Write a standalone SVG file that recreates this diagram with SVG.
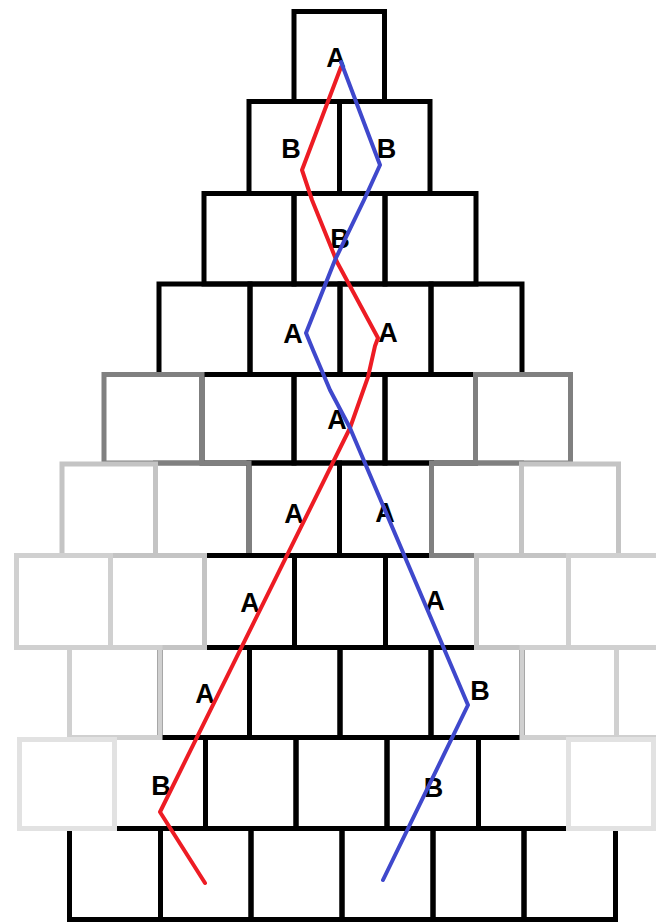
<svg xmlns="http://www.w3.org/2000/svg" width="656" height="922" viewBox="0 0 656 922">
<style>
rect{fill:none;stroke-width:5}
.k{stroke:#000}
.g1{stroke:#808080}
.g2{stroke:#c4c4c4}
.g3{stroke:#d0d0d0}
.g4{stroke:#e2e2e2}
text{font-family:"Liberation Sans Narrow","Liberation Sans",Arial,sans-serif;font-weight:bold;font-size:27px;fill:#000;text-anchor:middle}
.path{fill:none;stroke-width:4;stroke-linejoin:round;stroke-linecap:round}
.red{stroke:#ed1c24}
.blue{stroke:#3f48cc}
</style>
<rect x="0" y="0" width="656" height="922" fill="#fff" stroke="none"/>
<g id="r0c0"><rect class="k" x="294" y="11.5" width="90.5" height="90"/><text x="336" y="67">A</text></g>
<g id="r1c0"><rect class="k" x="249" y="101.5" width="90.5" height="92"/><text x="291" y="158">B</text></g>
<g id="r1c1"><rect class="k" x="339.5" y="101.5" width="90.5" height="92"/><text x="386.5" y="158">B</text></g>
<g id="r2c0"><rect class="k" x="204" y="193.5" width="90" height="90.5"/></g>
<g id="r2c1"><rect class="k" x="294" y="193.5" width="91" height="90.5"/><text x="340" y="248">B</text></g>
<g id="r2c2"><rect class="k" x="385" y="193.5" width="91" height="90.5"/></g>
<g id="r3c0"><rect class="k" x="159" y="284" width="91" height="90.5"/></g>
<g id="r3c1"><rect class="k" x="250" y="284" width="90" height="90.5"/><text x="293" y="343">A</text></g>
<g id="r3c2"><rect class="k" x="340" y="284" width="91" height="90.5"/><text x="388" y="342">A</text></g>
<g id="r3c3"><rect class="k" x="431" y="284" width="91" height="90.5"/></g>
<g id="r4c1"><rect class="k" x="202" y="374.5" width="92" height="88.5"/></g>
<g id="r4c2"><rect class="k" x="294" y="374.5" width="91" height="88.5"/><text x="337" y="429">A</text></g>
<g id="r4c3"><rect class="k" x="385" y="374.5" width="90.5" height="88.5"/></g>
<g id="r5c2"><rect class="k" x="249" y="463" width="90.5" height="92.5"/><text x="294" y="523">A</text></g>
<g id="r5c3"><rect class="k" x="339.5" y="463" width="92" height="92.5"/><text x="385" y="522">A</text></g>
<g id="r6c3"><rect class="k" x="294.5" y="555.5" width="91" height="92"/></g>
<g id="r6c4"><rect class="k" x="385.5" y="555.5" width="91" height="92"/><text x="435" y="610">A</text></g>
<g id="r7c1"><rect class="k" x="160" y="647.5" width="89.5" height="90"/><text x="205" y="703">A</text></g>
<g id="r7c2"><rect class="k" x="249.5" y="647.5" width="90.5" height="90"/></g>
<g id="r7c3"><rect class="k" x="340" y="647.5" width="91" height="90"/></g>
<g id="r7c4"><rect class="k" x="431" y="647.5" width="91" height="90"/><text x="480" y="700">B</text></g>
<g id="r8c1"><rect class="k" x="114.5" y="737.5" width="91" height="91"/><text x="161" y="795">B</text></g>
<g id="r8c2"><rect class="k" x="205.5" y="737.5" width="90.5" height="91"/></g>
<g id="r8c3"><rect class="k" x="296" y="737.5" width="91" height="91"/></g>
<g id="r8c4"><rect class="k" x="387" y="737.5" width="91.5" height="91"/><text x="433.5" y="797">B</text></g>
<g id="r8c5"><rect class="k" x="478.5" y="737.5" width="90" height="91"/></g>
<g id="r9c0"><rect class="k" x="69.5" y="828.5" width="91" height="91"/></g>
<g id="r9c1"><rect class="k" x="160.5" y="828.5" width="90.5" height="91"/></g>
<g id="r9c2"><rect class="k" x="251" y="828.5" width="91" height="91"/></g>
<g id="r9c3"><rect class="k" x="342" y="828.5" width="91" height="91"/></g>
<g id="r9c4"><rect class="k" x="433" y="828.5" width="91" height="91"/></g>
<g id="r9c5"><rect class="k" x="524" y="828.5" width="91.5" height="91"/></g>
<g id="r4c0"><rect class="g1" x="104" y="374.5" width="98" height="88.5"/></g>
<g id="r4c4"><rect class="g1" x="475.5" y="374.5" width="95" height="88.5"/></g>
<g id="r5c1"><rect class="g1" x="155.5" y="463" width="93.5" height="92.5"/></g>
<g id="r5c4"><rect class="g1" x="431.5" y="463" width="90" height="92.5"/></g>
<g id="r6c2"><rect class="k" x="204.5" y="555.5" width="90" height="92"/><text x="250" y="612">A</text></g>
<g id="r5c0"><rect class="g2" x="62" y="464" width="93.5" height="91.5"/></g>
<g id="r5c5"><rect class="g2" x="521.5" y="464" width="97" height="91.5"/></g>
<g id="r6c1"><rect class="g2" x="110.5" y="555.5" width="94" height="92"/></g>
<g id="r6c5"><rect class="g2" x="476.5" y="555.5" width="92" height="92"/></g>
<g id="r6c0"><rect class="g3" x="16.5" y="555.5" width="94" height="92"/></g>
<g id="r6c6"><rect class="g3" x="568.5" y="555.5" width="92" height="92"/></g>
<g id="r7c0"><rect class="g3" x="69.5" y="647.5" width="90.5" height="90"/></g>
<g id="r7c5"><rect class="g3" x="522" y="647.5" width="94.5" height="90"/></g>
<g id="r7c6"><rect class="g3" x="616.5" y="647.5" width="94" height="90"/></g>
<g id="r8c0"><rect class="g4" x="19.5" y="739.5" width="95" height="89"/></g>
<g id="r8c6"><rect class="g4" x="568.5" y="739.5" width="85" height="89"/></g>
<g id="connectors">
<polyline class="path red" points="341,67 302,170 312,200 331,247 337,262 378,338 375,346 368,377 350,428 160,812 205,883"/>
<polyline class="path blue" points="341,62 380,165 364,200 335,260 306,333 313,350 330,390 350,428 468,705 383,880"/>
</g>
</svg>
